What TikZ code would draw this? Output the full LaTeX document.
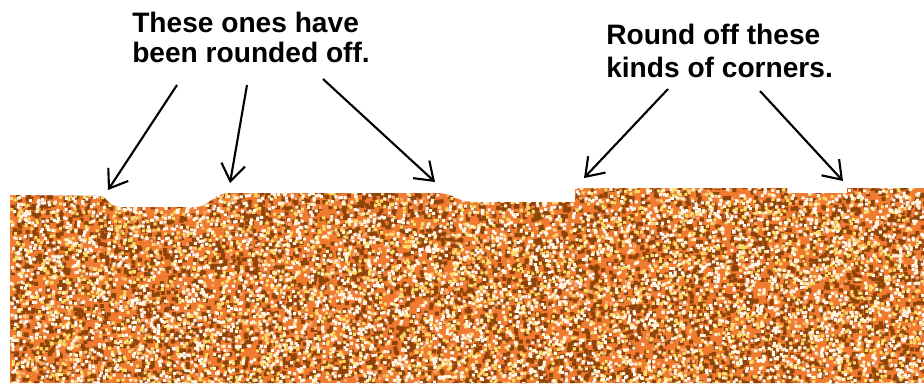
\documentclass[tikz,border=0pt]{standalone}
\usepackage{fontspec}
\setmainfont{Liberation Sans}
\usepackage{xcolor}
\usepackage{tikz}
\usetikzlibrary{arrows.meta}

\definecolor{soilbase}{HTML}{F07A30}
\definecolor{soilbrown}{HTML}{8E4408}
\definecolor{soillight}{HTML}{F6AA70}
\definecolor{soilyellow}{HTML}{FADC6C}
\definecolor{soilwhite}{HTML}{FFF6EC}

\begin{document}
\begin{tikzpicture}[x=0.025cm, y=-0.025cm,
  note/.style={font=\bfseries\fontsize{20}{21.3}\selectfont, align=left,
               inner sep=0pt, anchor=north west},
  arr/.style={-{Straight Barb[length=12pt,width=17pt]}, line width=1.5pt}]
  \useasboundingbox (0,0) rectangle (924,383);
  \pgfmathsetseed{4711}
  % random grains: colour, number of batches, grain size
  \def\specks#1#2#3{%
    \foreach \k in {1,...,#2}{%
      \fill[#1] \foreach \i in {1,...,100}{({10+914*rnd},{185+198*rnd}) rectangle ++(#3,#3)};}}

  % the ground
  \begin{scope}
    \clip (10,383) -- (10,195) -- (98,196) .. controls (108,196) and (108,207) .. (120,207)
      -- (196,207) .. controls (210,207) and (212,193) .. (230,193)
      -- (436,193) .. controls (454,193) and (456,202) .. (474,202)
      -- (575,202) -- (575,188) -- (787,188) -- (787,193) -- (847,193) -- (847,188)
      -- (924,188) -- (924,383) -- cycle;
    \fill[soilbase] (0,180) rectangle (924,383);
    \specks{soilbrown}{60}{4}
    \specks{soillight}{12}{3}
    \specks{soilyellow}{32}{3}
    \specks{soilwhite}{40}{3}
  \end{scope}

  \node[note] (done) at (132,12) {These ones have\\been rounded off.};
  \node[note, font=\bfseries\fontsize{20}{23.4}\selectfont] (todo)
      at (606,24) {Round off these\\kinds of corners.};

  \coordinate (d1) at (177,85);  \coordinate (c1) at (108,190);
  \coordinate (d2) at (247,85);  \coordinate (c2) at (230,183);
  \coordinate (d3) at (323,79);  \coordinate (c3) at (435,182);
  \coordinate (t1) at (668,89);  \coordinate (k1) at (584,178);
  \coordinate (t2) at (760,91);  \coordinate (k2) at (843,181);

  \draw[arr] (d1) -- (c1);
  \draw[arr] (d2) -- (c2);
  \draw[arr] (d3) -- (c3);
  \draw[arr] (t1) -- (k1);
  \draw[arr] (t2) -- (k2);
\end{tikzpicture}
\end{document}
